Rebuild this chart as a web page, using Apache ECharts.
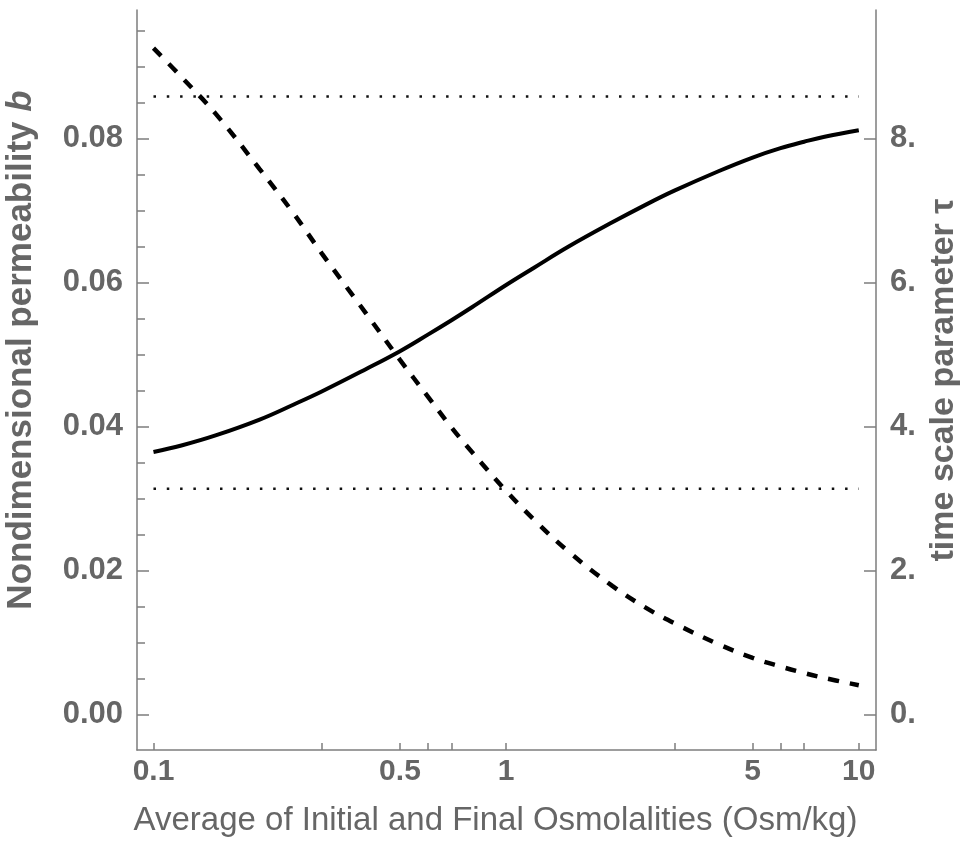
<!DOCTYPE html>
<html>
<head>
<meta charset="utf-8">
<script src="https://cdn.jsdelivr.net/npm/echarts@6/dist/echarts.min.js"></script>
<style>
  html, body { margin: 0; padding: 0; background: #fff; }
  #chart { width: 962px; height: 854px; }
</style>
</head>
<body>
<div id="chart"></div>
<script>
// average osmolality (Osm/kg)
const osm = [0.1, 0.12, 0.15, 0.2, 0.25, 0.3, 0.4, 0.5, 0.6, 0.7, 0.8, 1, 1.2, 1.5, 2, 2.5, 3, 4, 5, 6, 7, 8, 10]
// nondimensional permeability b (left axis, solid)
const permB = [0.0365, 0.0374, 0.0388, 0.0410, 0.0431, 0.0449, 0.0480, 0.0505, 0.0528, 0.0548, 0.0566, 0.0597,
  0.0621, 0.0650, 0.0684, 0.0709, 0.0728, 0.0755, 0.0774, 0.0787, 0.0796, 0.0803, 0.0812]
// time scale parameter tau (right axis, dashed)
const tau = [9.26, 8.86, 8.35, 7.58, 6.96, 6.41, 5.58, 4.93, 4.42, 3.99, 3.65, 3.11,
  2.71, 2.27, 1.79, 1.48, 1.27, 0.98, 0.79, 0.67, 0.58, 0.51, 0.41]
// dotted reference levels of tau
const tauRefs = [8.59, 3.14]
const refRange = [0.1, 10]

// ticks and labels
const xTickVals = [0.1, 0.3, 0.5, 0.6, 0.7, 1, 3, 5, 6, 7, 10]
const xLabelVals = [0.1, 0.5, 1, 5, 10]
const xLabels = ['0.1', '0.5', '1', '5', '10']
const bMajor = [0, 0.02, 0.04, 0.06, 0.08]
const bLabels = ['0.00', '0.02', '0.04', '0.06', '0.08']
const bMinor = [0.005, 0.01, 0.015, 0.025, 0.03, 0.035, 0.045, 0.05, 0.055, 0.065, 0.07, 0.075, 0.085, 0.09, 0.095]
const tauMajor = [0, 2, 4, 6, 8]
const tauLabels = ['0.', '2.', '4.', '6.', '8.']

const lg = v => Math.log10(v)
const pick = (vals, labels, v) => {
  const i = vals.findIndex(x => Math.abs(x - v) < 1e-9)
  return i < 0 ? '' : labels[i]
}
const pickLog = (v) => {
  const i = xLabelVals.findIndex(x => Math.abs(lg(x) - v) < 1e-9)
  return i < 0 ? '' : xLabels[i]
}

const axisGray = '#7d7d7d'
const textGray = '#666666'
const font = "'Liberation Sans', Arial, sans-serif"

const chart = echarts.init(document.getElementById('chart'))
chart.setOption({
  animation: false,
  backgroundColor: '#fff',
  grid: {
    left: 137,
    right: 86,
    top: 10,
    bottom: 104,
    containLabel: false,
    outerBoundsMode: 'none'
  },
  xAxis: {
    type: 'value',
    min: lg(0.0898),
    max: lg(11.19),
    name: 'Average of Initial and Final Osmolalities (Osm/kg)',
    nameLocation: 'middle',
    nameGap: 54,
    nameTextStyle: { fontFamily: font, fontSize: 33, color: textGray, padding: [0, 22, 0, 0] },
    axisLine: { show: true, onZero: false, lineStyle: { color: axisGray, width: 1.5 } },
    axisTick: { show: true, inside: true, length: 7, customValues: xTickVals.map(lg), lineStyle: { color: axisGray, width: 1.5 } },
    axisLabel: {
      customValues: xLabelVals.map(lg),
      formatter: v => pickLog(v),
      fontFamily: font,
      fontSize: 30,
      fontWeight: 'bold',
      color: textGray,
      margin: 7
    },
    splitLine: { show: false }
  },
  yAxis: [
    {
      type: 'value',
      position: 'left',
      min: -0.0049,
      max: 0.0979,
      name: 'Nondimensional permeability {it|b}',
      nameLocation: 'middle',
      nameGap: 98,
      nameTextStyle: {
        fontFamily: font, fontSize: 35, fontWeight: 'bold', color: textGray, padding: [0, 0, 0, 60],
        rich: { it: { fontFamily: font, fontSize: 35, fontWeight: 'bold', fontStyle: 'italic', color: textGray } }
      },
      axisLine: { show: true, onZero: false, lineStyle: { color: axisGray, width: 1.5 } },
      axisTick: { show: true, inside: true, length: 12, customValues: bMajor, lineStyle: { color: axisGray, width: 1.5 } },
      axisLabel: {
        customValues: bMajor,
        formatter: v => pick(bMajor, bLabels, v),
        fontFamily: font, fontSize: 31, fontWeight: 'bold', color: textGray, margin: 14
      },
      splitLine: { show: false }
    },
    {
      type: 'value',
      position: 'right',
      min: -0.49,
      max: 9.79,
      name: 'time scale parameter τ',
      nameLocation: 'middle',
      nameGap: 48,
      nameRotate: 90,
      nameTextStyle: { fontFamily: font, fontSize: 34, fontWeight: 'bold', color: textGray },
      axisLine: { show: true, onZero: false, lineStyle: { color: axisGray, width: 1.5 } },
      axisTick: { show: true, inside: true, length: 12, customValues: tauMajor, lineStyle: { color: axisGray, width: 1.5 } },
      axisLabel: {
        customValues: tauMajor,
        formatter: v => pick(tauMajor, tauLabels, v),
        fontFamily: font, fontSize: 31, fontWeight: 'bold', color: textGray, margin: 14
      },
      splitLine: { show: false }
    },
    {
      // minor ticks of the left axis
      type: 'value',
      position: 'left',
      min: -0.0049,
      max: 0.0979,
      axisLine: { show: false, onZero: false },
      axisTick: { show: true, inside: true, length: 8, customValues: bMinor, lineStyle: { color: axisGray, width: 1.5 } },
      axisLabel: { show: false },
      splitLine: { show: false }
    }
  ],
  series: [
    {
      name: 'b',
      type: 'line',
      yAxisIndex: 0,
      smooth: 0.4,
      symbol: 'none',
      data: osm.map((x, i) => [lg(x), permB[i]]),
      lineStyle: { color: '#000', width: 4 }
    },
    {
      name: 'tau',
      type: 'line',
      yAxisIndex: 1,
      smooth: 0.4,
      symbol: 'none',
      data: osm.map((x, i) => [lg(x), tau[i]]),
      lineStyle: { color: '#000', width: 4.5, type: [11, 11] }
    },
    ...tauRefs.map(t => ({
      type: 'line',
      yAxisIndex: 1,
      symbol: 'none',
      data: refRange.map(x => [lg(x), t]),
      lineStyle: { color: '#111', width: 2.5, type: [2.5, 10.8] }
    }))
  ]
})
</script>
</body>
</html>
